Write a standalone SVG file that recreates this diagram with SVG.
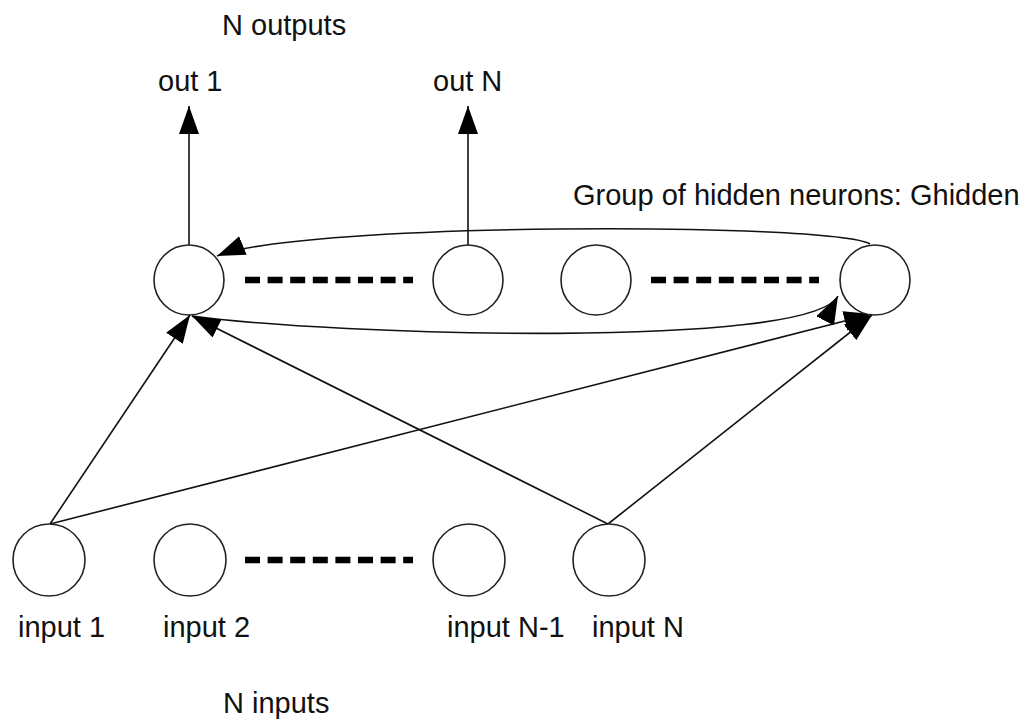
<svg xmlns="http://www.w3.org/2000/svg" width="1033" height="720" viewBox="0 0 1033 720">
<defs>
<marker id="ah" markerUnits="userSpaceOnUse" markerWidth="28" markerHeight="20" refX="28" refY="10" orient="auto" viewBox="0 0 28 20">
<path d="M0,0 L28,10 L0,20 z" fill="#000"/>
</marker>
<style>
.n{fill:#fff;stroke:#222;stroke-width:1.6}
.c{fill:none;stroke:#111;stroke-width:1.6}
.d{stroke:#000;stroke-width:6.5;stroke-dasharray:15 7.6}
.t{font-family:"Liberation Sans",Arial,sans-serif;font-size:29px;fill:#111}
</style>
</defs>
<rect width="1033" height="720" fill="#fff"/>
<g id="connectors">
<line class="c" x1="189" y1="245" x2="189" y2="106" marker-end="url(#ah)"/>
<line class="c" x1="468" y1="245" x2="468" y2="106" marker-end="url(#ah)"/>
<path class="c" d="M870,244 C830,222 300,222 217,256" marker-end="url(#ah)"/>
<path class="c" d="M192,316 C330,335 810,350 838,296" marker-end="url(#ah)"/>
<line class="c" x1="50" y1="524" x2="190" y2="315" marker-end="url(#ah)"/>
<line class="c" x1="50" y1="524" x2="872" y2="314" marker-end="url(#ah)"/>
<line class="c" x1="608" y1="524" x2="192" y2="316" marker-end="url(#ah)"/>
<line class="c" x1="608" y1="524" x2="872" y2="315" marker-end="url(#ah)"/>
</g>
<g id="hidden-dots">
<line class="d" x1="245" y1="280" x2="413" y2="280"/>
<line class="d" x1="651" y1="280" x2="819" y2="280"/>
</g>
<g id="input-dots">
<line class="d" x1="245" y1="560" x2="413" y2="560"/>
</g>
<g id="h1"><circle class="n" cx="189" cy="280" r="35"/></g>
<g id="hN"><circle class="n" cx="468" cy="280" r="35"/></g>
<g id="h3"><circle class="n" cx="596" cy="280" r="35"/></g>
<g id="h4"><circle class="n" cx="875" cy="280" r="35"/></g>
<g id="in1"><circle class="n" cx="49" cy="560" r="36"/><text class="t" x="18" y="637">input 1</text></g>
<g id="in2"><circle class="n" cx="190" cy="560" r="36"/><text class="t" x="163" y="637">input 2</text></g>
<g id="inN1"><circle class="n" cx="469" cy="560" r="36"/><text class="t" x="447" y="637">input N-1</text></g>
<g id="inN"><circle class="n" cx="609" cy="560" r="36"/><text class="t" x="592" y="637">input N</text></g>
<g id="labels">
<text class="t" x="222" y="35">N outputs</text>
<text class="t" x="158" y="91">out 1</text>
<text class="t" x="433" y="91">out N</text>
<text class="t" x="573" y="205">Group of hidden neurons: Ghidden</text>
<text class="t" x="223" y="713">N inputs</text>
</g>
</svg>
